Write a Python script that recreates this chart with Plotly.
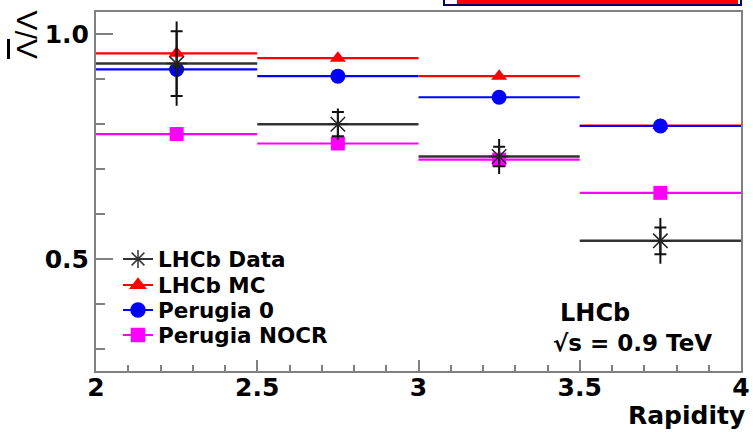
import numpy as np
import plotly.graph_objects as go

# ---- data ----
bin_edges = [2.0, 2.5, 3.0, 3.5, 4.0]
data_vals = [0.935, 0.800, 0.728, 0.540]
data_stat = [0.072, 0.027, 0.022, 0.030]
data_tot = [0.094, 0.035, 0.039, 0.051]
mc_vals = [0.958, 0.947, 0.907, 0.797]
p0_vals = [0.922, 0.907, 0.860, 0.796]
nocr_vals = [0.778, 0.757, 0.721, 0.647]
names = ["LHCb Data", "LHCb MC", "Perugia 0", "Perugia NOCR"]
x_ticks = [2, 2.5, 3, 3.5, 4]
y_ticks = [0.5, 1.0]

edges = np.array(bin_edges)
centers = (edges[:-1] + edges[1:]) / 2
halfw = (edges[1:] - edges[:-1]) / 2

FONT = "DejaVu Sans"
fig = go.Figure()

def series(vals, color, symbol, size, lw=2.2):
    fig.add_trace(go.Scatter(
        x=centers, y=vals, mode="markers", showlegend=False,
        marker=dict(symbol=symbol, size=size, color=color, line=dict(width=0)),
        error_x=dict(type="data", array=halfw, width=0, thickness=lw, color=color),
    ))

series(mc_vals, "#ff0000", "triangle-up", 14)
series(p0_vals, "#0000ff", "circle", 15)
series(nocr_vals, "#ff00ff", "square", 14)

# LHCb data: total error (no caps), stat error (caps), bin line, star marker
fig.add_trace(go.Scatter(
    x=centers, y=data_vals, mode="markers", showlegend=False,
    marker=dict(size=1, color="rgba(0,0,0,0)"),
    error_y=dict(type="data", array=data_tot, width=0, thickness=2, color="#111111"),
))
fig.add_trace(go.Scatter(
    x=centers, y=data_vals, mode="markers", showlegend=False,
    marker=dict(symbol="asterisk-open", size=17, color="#222222", line=dict(width=1.5, color="#222222")),
    error_y=dict(type="data", array=data_stat, width=6, thickness=2, color="#111111"),
    error_x=dict(type="data", array=halfw, width=0, thickness=2.5, color="#333333"),
))

# legend entries (one legend per row to control spacing)
leg_styles = [
    ("#333333", "asterisk-open", 15),
    ("#ff0000", "triangle-up", 13),
    ("#0000ff", "circle", 14),
    ("#ff00ff", "square", 13),
]
leg_ids = ["legend", "legend2", "legend3", "legend4"]
row_px = [259, 285, 310, 335]
for nm, (c, s, sz), lid in zip(names, leg_styles, leg_ids):
    fig.add_trace(go.Scatter(
        x=[None], y=[None], mode="lines+markers", name=nm, legend=lid,
        line=dict(color=c, width=2),
        marker=dict(symbol=s, size=sz, color=c, line=dict(width=1.5, color=c)),
    ))

PL, PR, PT, PB = 96, 741, 12, 371
W, H = 753, 432
def px_x(p): return (p - PL) / (PR - PL)
def px_y(p): return (PB - p) / (PB - PT)

layout_legends = {}
for lid, ry in zip(leg_ids, row_px):
    layout_legends[lid] = dict(
        x=px_x(118), y=px_y(ry), xanchor="left", yanchor="middle",
        bgcolor="rgba(0,0,0,0)", borderwidth=0,
        font=dict(family=FONT, size=21.5, color="black", weight="bold"),
    )

axis_color = "#808080"
fig.update_layout(
    width=W, height=H,
    margin=dict(l=PL, r=W - PR, t=PT, b=H - PB),
    paper_bgcolor="white", plot_bgcolor="white",
    showlegend=True,
    **layout_legends,
    xaxis=dict(
        range=[2, 4], tickvals=x_ticks, ticktext=[str(v) for v in x_ticks],
        ticks="inside", ticklen=11, tickwidth=1.5, tickcolor=axis_color,
        minor=dict(dtick=0.1, ticklen=6, tickwidth=1.5, tickcolor=axis_color, ticks="inside"),
        showline=True, linecolor=axis_color, linewidth=2, mirror=True,
        showgrid=False, zeroline=False, automargin=False, ticklabelstandoff=-7,
        tickfont=dict(family=FONT, size=25, color="black", weight="bold"),
    ),
    yaxis=dict(
        range=[0.25, 1.05], tickvals=y_ticks, ticktext=["%.1f" % v for v in y_ticks],
        ticks="inside", ticklen=17, tickwidth=1.5, tickcolor=axis_color,
        minor=dict(dtick=0.1, tick0=0, ticklen=9, tickwidth=1.5, tickcolor=axis_color, ticks="inside"),
        showline=True, linecolor=axis_color, linewidth=2, mirror=True,
        showgrid=False, zeroline=False, automargin=False,
        tickfont=dict(family=FONT, size=25, color="black", weight="bold"),
    ),
    annotations=[
        dict(text="<span style=\"text-decoration:overline\">\u039B</span>/\u039B",
             xref="paper", yref="paper", x=px_x(27), y=px_y(9),
             xanchor="center", yanchor="top", textangle=-90, showarrow=False,
             font=dict(family="Liberation Sans", size=30, color="black")),
        dict(text="Rapidity", xref="paper", yref="paper", x=px_x(747), y=px_y(416),
             xanchor="right", yanchor="middle", showarrow=False,
             font=dict(family=FONT, size=25, color="black", weight="bold")),
        dict(text="LHCb", xref="paper", yref="paper", x=px_x(558), y=px_y(313),
             xanchor="left", yanchor="middle", showarrow=False,
             font=dict(family=FONT, size=24, color="black", weight="bold")),
        dict(text="\u221As = 0.9 TeV", xref="paper", yref="paper", x=px_x(551), y=px_y(343),
             xanchor="left", yanchor="middle", showarrow=False,
             font=dict(family=FONT, size=23, color="black", weight="bold")),
    ],
    shapes=[
        dict(type="rect", xref="paper", yref="paper", x0=px_x(444), x1=px_x(741),
             y0=px_y(5), y1=px_y(-10), line=dict(color="#000066", width=2), fillcolor="white"),
        dict(type="rect", xref="paper", yref="paper", x0=px_x(457), x1=px_x(738),
             y0=px_y(4), y1=px_y(-10), line=dict(width=0), fillcolor="#ff0000"),
    ],
)

fig.write_html("out.html")
